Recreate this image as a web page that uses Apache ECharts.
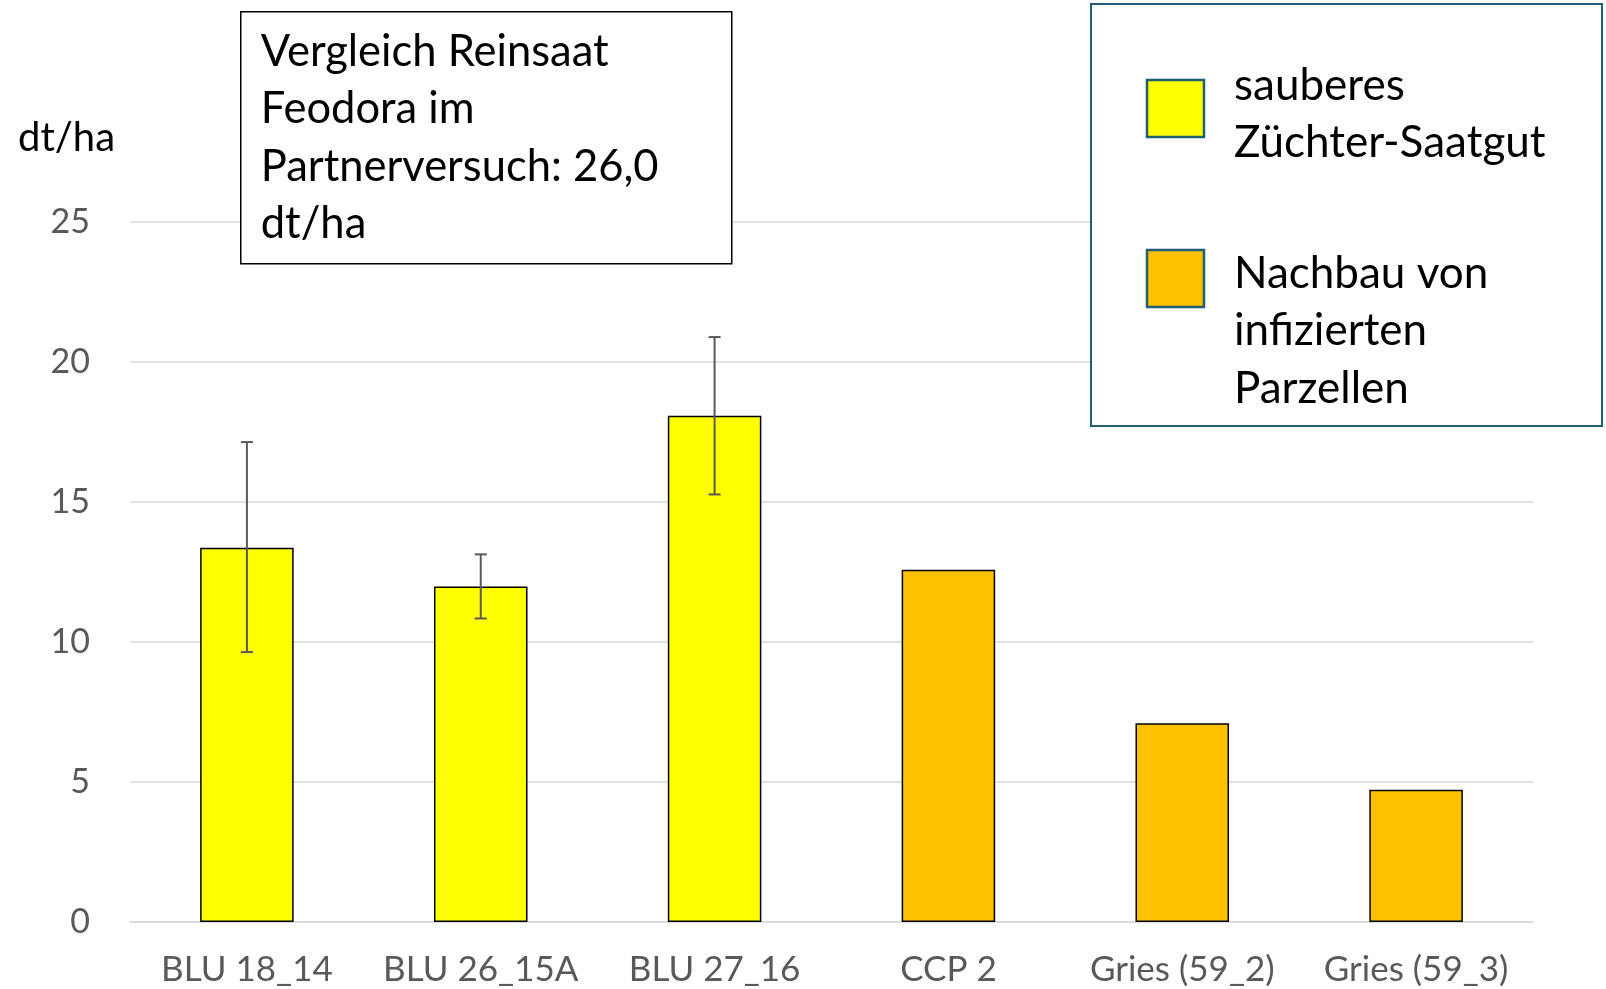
<!DOCTYPE html>
<html>
<head>
<meta charset="utf-8">
<script src="https://cdn.jsdelivr.net/npm/echarts@6/dist/echarts.min.js"></script>
<style>html,body{margin:0;padding:0;background:#fff}#c{width:1606px;height:989px}</style>
</head>
<body>
<div id="c"></div>
<script>
const categories = ['BLU 18_14', 'BLU 26_15A', 'BLU 27_16', 'CCP 2', 'Gries (59_2)', 'Gries (59_3)'];
const cleanSeed = [13.37, 11.98, 18.08, '-', '-', '-'];
const infectedSeed = ['-', '-', '-', 12.58, 7.10, 4.72];
const errLow = [9.64, 10.84, 15.27, null, null, null];
const errHigh = [17.14, 13.13, 20.89, null, null, null];
const yTicks = { min: 0, max: 25, interval: 5 };
const seriesNames = ['sauberes\nZüchter-Saatgut', 'Nachbau von\ninfizierten\nParzellen'];
const noteText = 'Vergleich Reinsaat\nFeodora im\nPartnerversuch: 26,0\ndt/ha';
const unitLabel = 'dt/ha';

const FONT = 'Lato';
const errData = [];
for (let i = 0; i < categories.length; i++) {
  if (errLow[i] != null) errData.push([i, errLow[i], errHigh[i]]);
}

const chart = echarts.init(document.getElementById('c'), null, { renderer: 'canvas' });
chart.setOption({
  backgroundColor: '#ffffff',
  animation: false,
  textStyle: { fontFamily: FONT },
  title: {
    text: unitLabel, left: 13, top: 113,
    textStyle: { fontFamily: FONT, fontSize: 40, fontWeight: 'normal', color: '#000' }
  },
  grid: { left: 130, right: 73, top: 222, bottom: 67, containLabel: false },
  xAxis: {
    type: 'category', data: categories,
    axisLine: { lineStyle: { color: '#D9D9D9', width: 1.5 } },
    axisTick: { show: false },
    axisLabel: { fontFamily: FONT, fontSize: 35, color: '#595959', margin: 30, interval: 0 }
  },
  yAxis: {
    type: 'value', min: yTicks.min, max: yTicks.max, interval: yTicks.interval,
    axisLine: { show: false }, axisTick: { show: false },
    splitLine: { lineStyle: { color: '#D9D9D9', width: 1.5 } },
    axisLabel: { fontFamily: FONT, fontSize: 34, color: '#595959', margin: 40 }
  },
  series: [
    {
      name: seriesNames[0], type: 'bar', stack: 's', data: cleanSeed, barWidth: '40%',
      itemStyle: { color: '#FFFF00', borderColor: '#000', borderWidth: 1.5 }
    },
    {
      name: seriesNames[1], type: 'bar', stack: 's', data: infectedSeed, barWidth: '40%',
      itemStyle: { color: '#FFC000', borderColor: '#000', borderWidth: 1.5 }
    },
    {
      type: 'custom', data: errData, z: 10,
      renderItem: function (params, api) {
        const x = api.value(0);
        const lo = api.coord([x, api.value(1)]);
        const hi = api.coord([x, api.value(2)]);
        const w = 6;
        const st = { stroke: '#595959', lineWidth: 2 };
        return {
          type: 'group', children: [
            { type: 'line', shape: { x1: hi[0], y1: hi[1], x2: lo[0], y2: lo[1] }, style: st },
            { type: 'line', shape: { x1: hi[0] - w, y1: hi[1], x2: hi[0] + w, y2: hi[1] }, style: st },
            { type: 'line', shape: { x1: lo[0] - w, y1: lo[1], x2: lo[0] + w, y2: lo[1] }, style: st }
          ]
        };
      }
    }
  ],
  graphic: [
    {
      type: 'group', left: 240, top: 11, z: 100, zlevel: 1,
      children: [
        { type: 'rect', z: 100, zlevel: 1, shape: { x: 0, y: 0, width: 491, height: 252 }, style: { fill: '#fff', stroke: '#000', lineWidth: 1.5 } },
        { type: 'text', z: 101, zlevel: 1, x: 20, y: 11, style: { text: noteText, font: '43.5px ' + FONT, fill: '#000', lineHeight: 57.5 } }
      ]
    },
    {
      type: 'group', left: 1090, top: 3, z: 100, zlevel: 1,
      children: [
        { type: 'rect', z: 100, zlevel: 1, shape: { x: 0, y: 0, width: 511, height: 422 }, style: { fill: '#fff', stroke: '#1F5E73', lineWidth: 2 } },
        { type: 'rect', z: 101, zlevel: 1, shape: { x: 56, y: 76, width: 57, height: 57 }, style: { fill: '#FFFF00', stroke: '#1F5E73', lineWidth: 2.5 } },
        { type: 'rect', z: 101, zlevel: 1, shape: { x: 56, y: 246, width: 57, height: 57 }, style: { fill: '#FFC000', stroke: '#1F5E73', lineWidth: 2.5 } },
        { type: 'text', z: 101, zlevel: 1, x: 143, y: 53, style: { text: seriesNames[0], font: '44px ' + FONT, fill: '#000', lineHeight: 57.5 } },
        { type: 'text', z: 101, zlevel: 1, x: 143, y: 241, style: { text: seriesNames[1], font: '44px ' + FONT, fill: '#000', lineHeight: 57.5 } }
      ]
    }
  ]
});
</script>
</body>
</html>
